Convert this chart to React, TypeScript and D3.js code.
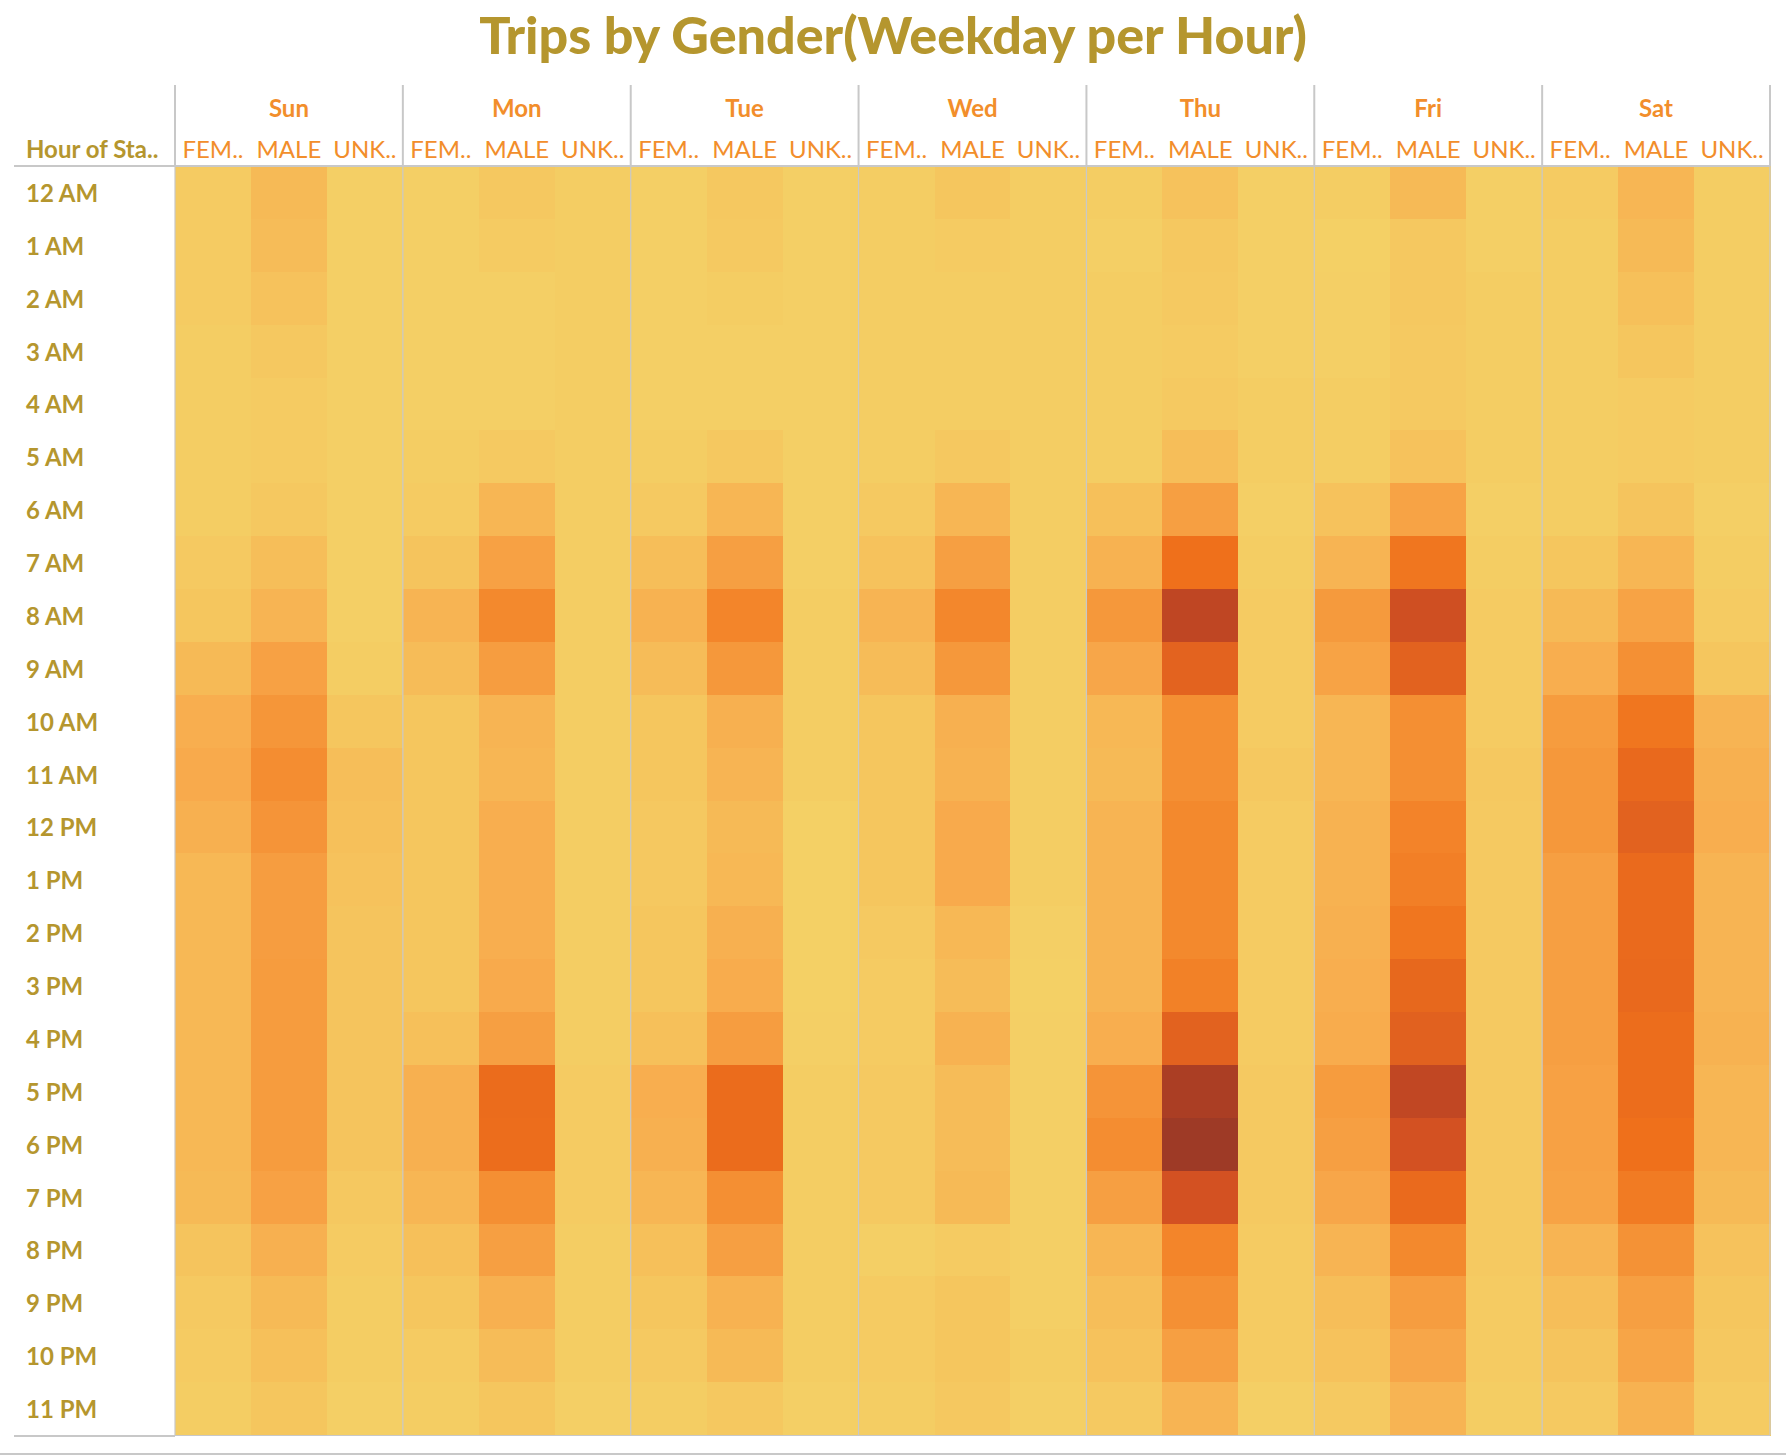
import * as d3 from "d3";

// Trips per hour of start time, one array per weekday and gender (0 = 12 AM ... 23 = 11 PM).
const days = ["Sun", "Mon", "Tue", "Wed", "Thu", "Fri", "Sat"];
const genders = ["FEMALE", "MALE", "UNKNOWN"];
const genderLabels = ["FEM..", "MALE", "UNK.."];
const hours = [
  "12 AM", "1 AM", "2 AM", "3 AM", "4 AM", "5 AM", "6 AM", "7 AM", "8 AM", "9 AM", "10 AM", "11 AM",
  "12 PM", "1 PM", "2 PM", "3 PM", "4 PM", "5 PM", "6 PM", "7 PM", "8 PM", "9 PM", "10 PM", "11 PM",
];

const sunFemale = [0.3, 0.3, 0.3, 0.2, 0.2, 0.2, 0.2, 0.4, 0.6, 1.2, 1.8, 2.0, 1.7, 1.3, 1.3, 1.3, 1.3, 1.3, 1.3, 1.2, 0.7, 0.4, 0.3, 0.2];
const sunMale = [1.2, 1.1, 0.8, 0.5, 0.3, 0.3, 0.5, 1.0, 1.5, 2.5, 3.1, 3.6, 3.2, 2.7, 2.7, 2.8, 2.8, 2.8, 2.8, 2.5, 1.7, 1.2, 0.9, 0.6];
const sunUnknown = [0.1, 0.1, 0.1, 0.1, 0.1, 0.1, 0.1, 0.1, 0.1, 0.2, 0.6, 1.0, 0.9, 0.8, 0.7, 0.7, 0.7, 0.7, 0.7, 0.5, 0.3, 0.2, 0.2, 0.1];

const monFemale = [0.1, 0.1, 0.1, 0.1, 0.1, 0.2, 0.3, 0.7, 1.5, 1.1, 0.6, 0.6, 0.6, 0.6, 0.6, 0.6, 0.9, 1.7, 1.7, 1.4, 0.9, 0.6, 0.3, 0.2];
const monMale = [0.5, 0.3, 0.1, 0.1, 0.1, 0.4, 1.4, 2.5, 3.8, 2.7, 1.5, 1.4, 1.8, 1.8, 1.8, 2.0, 2.6, 5.3, 5.2, 3.5, 2.6, 1.7, 1.1, 0.6];
const monUnknown = [0.2, 0.2, 0.2, 0.2, 0.2, 0.2, 0.2, 0.2, 0.2, 0.2, 0.2, 0.2, 0.2, 0.2, 0.2, 0.2, 0.2, 0.3, 0.3, 0.3, 0.2, 0.2, 0.2, 0.1];

const tueFemale = [0.1, 0.1, 0.1, 0.1, 0.1, 0.2, 0.4, 1.0, 1.6, 1.1, 0.6, 0.6, 0.5, 0.5, 0.6, 0.6, 0.9, 1.8, 1.7, 1.4, 0.9, 0.6, 0.4, 0.2];
const tueMale = [0.5, 0.4, 0.2, 0.1, 0.1, 0.5, 1.4, 2.6, 4.0, 3.0, 1.7, 1.5, 1.2, 1.3, 1.7, 1.9, 2.7, 5.3, 5.3, 3.5, 2.6, 1.6, 1.2, 0.5];
const tueUnknown = [0.1, 0.1, 0.1, 0.1, 0.1, 0.1, 0.1, 0.1, 0.2, 0.2, 0.2, 0.2, 0.05, 0.05, 0.05, 0.05, 0.1, 0.2, 0.2, 0.2, 0.2, 0.2, 0.2, 0.1];

const wedFemale = [0.2, 0.2, 0.2, 0.2, 0.2, 0.2, 0.4, 0.8, 1.5, 1.1, 0.6, 0.6, 0.6, 0.6, 0.4, 0.3, 0.3, 0.4, 0.4, 0.4, 0.1, 0.3, 0.3, 0.2];
const wedMale = [0.6, 0.3, 0.2, 0.2, 0.2, 0.5, 1.4, 2.6, 3.9, 3.0, 1.7, 1.6, 2.0, 2.0, 1.3, 1.1, 1.6, 1.1, 1.1, 1.2, 0.3, 0.6, 0.6, 0.5];
const wedUnknown = [0.2, 0.2, 0.2, 0.2, 0.2, 0.2, 0.2, 0.2, 0.2, 0.2, 0.2, 0.2, 0.2, 0.2, 0.1, 0.05, 0.1, 0.1, 0.1, 0.1, 0.1, 0.1, 0.2, 0.1];

const thuFemale = [0.2, 0.1, 0.2, 0.2, 0.2, 0.2, 0.9, 1.6, 3.0, 2.2, 1.3, 1.2, 1.5, 1.5, 1.5, 1.5, 1.8, 3.2, 3.6, 2.6, 1.4, 1.0, 0.8, 0.4];
const thuMale = [0.8, 0.5, 0.4, 0.3, 0.4, 1.0, 2.6, 5.0, 8.3, 5.9, 3.5, 3.5, 3.8, 3.8, 3.8, 4.2, 6.0, 9.3, 10.0, 7.2, 4.0, 3.4, 2.6, 1.5];
const thuUnknown = [0.1, 0.1, 0.1, 0.1, 0.2, 0.2, 0.1, 0.2, 0.3, 0.3, 0.3, 0.5, 0.3, 0.3, 0.3, 0.3, 0.3, 0.4, 0.4, 0.4, 0.3, 0.3, 0.3, 0.1];

const friFemale = [0.2, 0.05, 0.1, 0.1, 0.2, 0.2, 0.8, 1.5, 2.9, 2.4, 1.4, 1.4, 1.6, 1.6, 1.7, 1.8, 1.9, 2.8, 2.6, 2.2, 1.5, 1.0, 0.8, 0.4];
const friMale = [1.2, 0.5, 0.5, 0.4, 0.4, 0.8, 2.4, 4.7, 7.4, 6.0, 3.5, 3.5, 4.1, 4.3, 4.7, 5.6, 6.1, 8.2, 7.2, 5.4, 3.8, 2.7, 2.2, 1.5];
const friUnknown = [0.1, 0.1, 0.2, 0.2, 0.2, 0.2, 0.1, 0.2, 0.3, 0.3, 0.3, 0.5, 0.4, 0.4, 0.4, 0.4, 0.4, 0.4, 0.4, 0.4, 0.4, 0.3, 0.3, 0.2];

const satFemale = [0.3, 0.2, 0.2, 0.2, 0.2, 0.2, 0.2, 0.6, 1.2, 1.8, 2.8, 3.0, 3.0, 2.6, 2.6, 2.6, 2.6, 2.5, 2.5, 2.4, 1.5, 1.0, 0.7, 0.4];
const satMale = [1.4, 1.2, 0.9, 0.6, 0.3, 0.3, 0.7, 1.4, 2.4, 3.4, 4.7, 5.5, 6.0, 5.4, 5.4, 5.5, 5.2, 5.2, 5.0, 4.5, 3.3, 2.6, 2.3, 1.6];
const satUnknown = [0.2, 0.2, 0.2, 0.2, 0.2, 0.2, 0.1, 0.2, 0.3, 0.6, 1.5, 1.7, 1.8, 1.5, 1.5, 1.5, 1.6, 1.4, 1.4, 1.2, 0.8, 0.6, 0.5, 0.3];

const series: Record<string, number[][]> = {
  Sun: [sunFemale, sunMale, sunUnknown],
  Mon: [monFemale, monMale, monUnknown],
  Tue: [tueFemale, tueMale, tueUnknown],
  Wed: [wedFemale, wedMale, wedUnknown],
  Thu: [thuFemale, thuMale, thuUnknown],
  Fri: [friFemale, friMale, friUnknown],
  Sat: [satFemale, satMale, satUnknown],
};

// Tableau "Orange-Gold" sequential palette
const orangeGold = ["#f4d166", "#f6be59", "#f8aa4c", "#f5983b", "#f3852a", "#ef701b", "#e2621f", "#d65322", "#c54923", "#b14023", "#9e3a26"];

const W = 1786;
const H = 1456;
const gold = "#b5962e";
const orange = "#f28e2b";
const rule = "#c8c8c8";
const font = "Lato, 'Open Sans', sans-serif";

type Cell = { day: string; gender: string; hour: string; value: number };

const cells: Cell[] = days.flatMap((day) =>
  genders.flatMap((gender, gi) =>
    hours.map((hour, hi) => ({ day, gender, hour, value: series[day][gi][hi] })),
  ),
);

export default function App() {
  const left = 175;
  const right = 1770;
  const top = 166;
  const bottom = 1435;

  const xDay = d3.scaleBand().domain(days).range([left, right]);
  const xGender = d3.scaleBand().domain(genders).range([0, xDay.bandwidth()]);
  const y = d3.scaleBand().domain(hours).range([top, bottom]);

  const maxValue = d3.max(cells, (d) => d.value) ?? 10;
  const color = d3
    .scaleLinear<string>()
    .domain(orangeGold.map((_, i) => (i / (orangeGold.length - 1)) * maxValue))
    .range(orangeGold)
    .interpolate(d3.interpolateRgb);

  return (
    <div style={{ position: "absolute", left: 0, top: 0 }}>
      <svg width={W} height={H} style={{ display: "block", fontFamily: font }}>
        <rect width={W} height={H} fill="#fff" />

        <text x={W / 2} y={54} textAnchor="middle" fontSize={52} fontWeight={900} fill={gold}>
          Trips by Gender(Weekday per Hour)
        </text>

        {/* cells */}
        <g shapeRendering="crispEdges">
          {cells.map((d) => (
            <rect
              key={`${d.day}-${d.gender}-${d.hour}`}
              x={(xDay(d.day) ?? 0) + (xGender(d.gender) ?? 0)}
              y={y(d.hour) ?? 0}
              width={xGender.bandwidth() + 0.5}
              height={y.bandwidth() + 0.5}
              fill={color(d.value)}
            />
          ))}
        </g>

        {/* day headers */}
        {days.map((day) => (
          <g key={day} transform={`translate(${xDay(day)},0)`}>
            <text
              x={xDay.bandwidth() / 2}
              y={107}
              dominantBaseline="central"
              textAnchor="middle"
              fontSize={24}
              fontWeight={700}
              fill={orange}
            >
              {day}
            </text>
            {genders.map((g, gi) => (
              <text
                key={g}
                x={(xGender(g) ?? 0) + xGender.bandwidth() / 2}
                y={148}
                dominantBaseline="central"
                textAnchor="middle"
                fontSize={24}
                fontWeight={400}
                fill={orange}
              >
                {genderLabels[gi]}
              </text>
            ))}
          </g>
        ))}

        <text x={26} y={148} dominantBaseline="central" fontSize={24} fontWeight={700} fill={gold}>
          Hour of Sta..
        </text>

        {/* row labels */}
        {hours.map((h) => (
          <text
            key={h}
            x={26}
            y={(y(h) ?? 0) + y.bandwidth() / 2}
            dominantBaseline="central"
            fontSize={24}
            fontWeight={700}
            fill={gold}
          >
            {h}
          </text>
        ))}

        {/* rules */}
        <g stroke={rule} fill="none">
          <line x1={14} x2={right} y1={top} y2={top} strokeWidth={2} />
          <line x1={14} x2={left} y1={bottom + 1} y2={bottom + 1} strokeWidth={2} />
          <line x1={left} x2={right} y1={bottom + 0.5} y2={bottom + 0.5} strokeWidth={1} />
          <line x1={0} x2={W} y1={1454} y2={1454} strokeWidth={2} />
          {[...days.map((d) => xDay(d) ?? 0), right].map((x, i) => (
            <g key={i}>
              <line x1={x} x2={x} y1={85} y2={top} strokeWidth={2} />
              <line x1={x} x2={x} y1={top} y2={bottom} strokeWidth={1.2} />
            </g>
          ))}
        </g>
      </svg>
    </div>
  );
}
